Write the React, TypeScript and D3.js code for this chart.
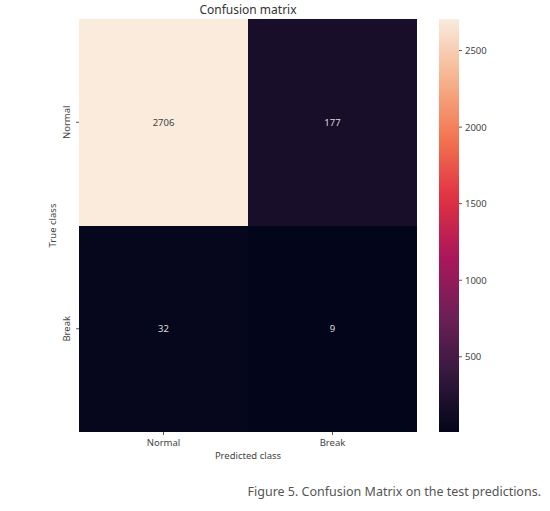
import React from "react";
import * as d3 from "d3";

const predictedClasses = ["Normal", "Break"];
const trueClasses = ["Normal", "Break"];
const matrixValues = [
  [2706, 177],
  [32, 9],
];
const colorbarTicks = [500, 1000, 1500, 2000, 2500];
const rocketStops = ["#03051a", "#35193e", "#701f57", "#ad1759", "#e13342", "#f37651", "#f6b48f", "#faebdd"];
const rocketPositions = [0, 1 / 7, 2 / 7, 3 / 7, 4 / 7, 5 / 7, 6 / 7, 1];

const W = 550;
const H = 511;
const left = 79;
const right = 417;
const top = 19;
const bottom = 432;
const cbLeft = 439;
const cbRight = 459;
const FONT = "'Noto Sans', 'Open Sans', sans-serif";

export default function App() {
  const flat = matrixValues.flat();
  const vmin = d3.min(flat)!;
  const vmax = d3.max(flat)!;
  const rocket = d3
    .scaleLinear<string>()
    .domain(rocketPositions)
    .range(rocketStops)
    .interpolate(d3.interpolateRgb);
  const color = (v: number) => rocket((v - vmin) / (vmax - vmin));

  const x = d3.scaleBand<string>().domain(predictedClasses).range([left, right]);
  const y = d3.scaleBand<string>().domain(trueClasses).range([top, bottom]);
  const cbY = d3.scaleLinear().domain([vmin, vmax]).range([bottom, top]);

  const gradStops = d3.range(0, 1.0001, 0.02);

  return (
    <svg width={W} height={H} style={{ position: "absolute", left: 0, top: 0, background: "#fff" }} fontFamily={FONT}>
      <defs>
        <linearGradient id="cb" x1="0" y1="1" x2="0" y2="0">
          {gradStops.map((t) => (
            <stop key={t} offset={t} stopColor={rocket(t)} />
          ))}
        </linearGradient>
      </defs>
      <text x={(left + right) / 2} y={14} textAnchor="middle" fontSize={12} fill="#333">
        Confusion matrix
      </text>
      {matrixValues.map((row, i) =>
        row.map((v, j) => (
          <rect
            key={`r${i}-${j}`}
            x={Math.round(x(predictedClasses[j])!)}
            y={Math.round(y(trueClasses[i])!)}
            width={Math.round(x(predictedClasses[j])! + x.bandwidth()) - Math.round(x(predictedClasses[j])!)}
            height={Math.round(y(trueClasses[i])! + y.bandwidth()) - Math.round(y(trueClasses[i])!)}
            fill={color(v)}
            shapeRendering="crispEdges"
          />
        ))
      )}
      {matrixValues.map((row, i) =>
        row.map((v, j) => (
          <text
            key={`t${i}-${j}`}
            x={x(predictedClasses[j])! + x.bandwidth() / 2}
            y={y(trueClasses[i])! + y.bandwidth() / 2}
            textAnchor="middle"
            dominantBaseline="central"
            fontSize={9.5}
            fill={(v - vmin) / (vmax - vmin) > 0.5 ? "#444" : "#ddd"}
          >
            {v}
          </text>
        ))
      )}
      {predictedClasses.map((c) => {
        const cx = x(c)! + x.bandwidth() / 2;
        return (
          <g key={c}>
            <line x1={cx} x2={cx} y1={bottom} y2={bottom + 3} stroke="#555" />
            <text x={cx} y={446} textAnchor="middle" fontSize={9.5} fill="#444">
              {c}
            </text>
          </g>
        );
      })}
      <text x={(left + right) / 2} y={459} textAnchor="middle" fontSize={9.5} fill="#444">
        Predicted class
      </text>
      {trueClasses.map((c) => {
        const cy = y(c)! + y.bandwidth() / 2;
        return (
          <g key={c}>
            <line x1={left - 3} x2={left} y1={cy} y2={cy} stroke="#555" />
            <text
              transform={`translate(${70},${cy}) rotate(-90)`}
              textAnchor="middle"
              fontSize={9.5}
              fill="#444"
            >
              {c}
            </text>
          </g>
        );
      })}
      <text
        transform={`translate(${56},${(top + bottom) / 2}) rotate(-90)`}
        textAnchor="middle"
        fontSize={9.5}
        fill="#444"
      >
        True class
      </text>
      <rect x={cbLeft} y={top} width={cbRight - cbLeft} height={bottom - top} fill="url(#cb)" />
      {colorbarTicks.map((t) => (
        <g key={t}>
          <line x1={cbRight} x2={cbRight + 3} y1={cbY(t)} y2={cbY(t)} stroke="#555" />
          <text x={cbRight + 6} y={cbY(t)} dominantBaseline="central" fontSize={9.5} fill="#444">
            {t}
          </text>
        </g>
      ))}
      <text x={541} y={496} textAnchor="end" fontSize={12.5} fill="#555">
        Figure 5. Confusion Matrix on the test predictions.
      </text>
    </svg>
  );
}
